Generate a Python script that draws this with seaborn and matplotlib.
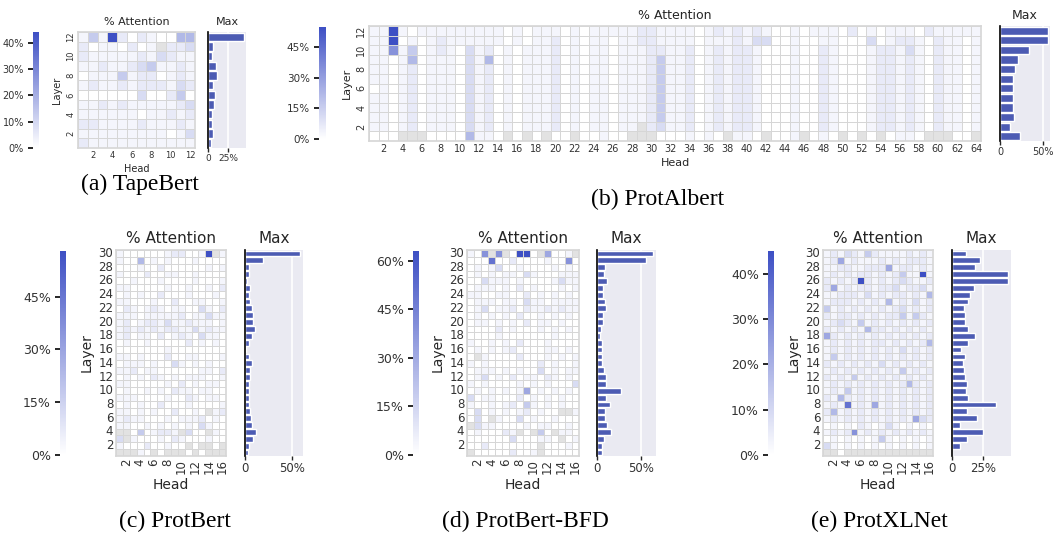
import numpy as np
import pandas as pd
import matplotlib
matplotlib.use("Agg")
import matplotlib.pyplot as plt
from matplotlib.ticker import FuncFormatter
import seaborn as sns

# Style
sns.set_theme(style="darkgrid")
plt.rcParams['font.family'] = ['DejaVu Sans']

W, H = 1053, 533
BLUE = '#3d4fc4'
BAR_COLOR = '#4c5bb3'
CELL_LINE = '#d6d6d6'
NAN_GRAY = '#e2e2e2'

# intensity code read off the cells -> fraction of colour-bar max ('x' = grey / no value)
LEVEL = {'0': 0.0, '1': 0.06, '2': 0.12, '3': 0.2, '4': 0.3,
         '5': 0.4, '6': 0.5, '7': 0.62, '8': 0.8, '9': 1.0, 'x': np.nan}

# ---- (a) TapeBert: 12 layers x 12 heads, rows from top layer down ----
tapebert_cells = [
    "141920210055", "20110201x223", "211111213211", "112112341121",
    "011141220121", "121121222132", "000000300240", "112121111123",
    "111111011212", "221111211121", "111111111013", "211111111111",
]
tapebert_max = [45.5, 6.9, 5.6, 9.9, 11.2, 6.9, 8.6, 7.3, 4.7, 4.7, 6.0, 3.4]

# ---- (b) ProtAlbert: 12 layers x 64 heads ----
protalbert_cells = [
    "1191011111" "1111010111" "0101111122" "1111012121" "2100101110" "2010111021" "1111",
    "1190101211" "1111010112" "0101101122" "1111011121" "3300100110" "0030122102" "1101",
    "1171401210" "3120101112" "0101101112" "2112012122" "1000100210" "0012213102" "1101",
    "1101501110" "3150101112" "0101101112" "4112012122" "1000100210" "0012212102" "1101",
    "1101201110" "3120101112" "0101101112" "4112012122" "1000100210" "0012212102" "1101",
    "1101201110" "3120101112" "0101101112" "4112012122" "1000100210" "0012212102" "1101",
    "0101201110" "3120101112" "0101101112" "4112012122" "1000100210" "0012212102" "1101",
    "1101201110" "3120101112" "0101101112" "4112012122" "1000100210" "0012212102" "1101",
    "1101201110" "3120101112" "0101101112" "4112012122" "1000100210" "0012212102" "1101",
    "1101201110" "3120101112" "0101101112" "4112012122" "1000100210" "0012212102" "1101",
    "1101201110" "3120101112" "01011011x2" "3112012122" "1000100210" "0012212102" "1101",
    "000xxx0000" "5110x0x0x0" "0x00100xxx" "0001010x11" "0x001x010x" "0x0x0110xx" "x00x",
]
protalbert_max = [55.6, 55.6, 34.0, 21.0, 17.5, 15.0, 15.0, 15.0, 15.0, 16.3, 11.5, 23.4]

# ---- (c) ProtBert: 30 layers x 16 heads ----
protbert_cells = [
    "10000001220019x1", "1005010100010000", "0001002000000101", "1000200110010000",
    "0010001000010001", "1100000100100102", "0101002000100010", "1100010020011001",
    "0210121011003102", "1110111112011311", "1201221311211101", "1212121221131211",
    "1201102012103110", "0100100000201010", "0000000100000000", "1101000200110001",
    "0111010031010100", "1120110000001102", "0101021010111001", "1100000102010110",
    "0100101021101100", "1110000100210110", "0101002000100001", "1101010020010x12",
    "1211000101112010", "1100101010103100", "xx0401221x300x10", "3x10001021000100",
    "1000200100x0xx0x", "xxx10x0xxx0x0xxx",
]
protbert_max = [58.5, 19.0, 4.3, 4.3, 2.5, 5.3, 4.3, 5.3, 7.4, 8.5, 8.5, 10.6, 7.4, 4.3, 1.0,
                4.3, 7.4, 5.3, 5.3, 4.3, 4.3, 4.3, 4.3, 5.3, 6.4, 7.4, 11.7, 8.5, 4.3, 3.2]

# ---- (d) ProtBert-BFD: 30 layers x 16 heads ----
protbert_bfd_cells = [
    "107x7x0990x6001x", "0008002000010070", "0101300100001010", "0101011031000111",
    "0031110100001311", "0111010201000101", "1100110020101010", "0111011031101111",
    "0130112021121211", "0101010200101010", "0110101020110100", "0000201000101010",
    "0000100000001000", "1001010200010000", "0101012000011010", "0x10000200010101",
    "1010000000201001", "0111010100301011", "0130102011021010", "1010000101010003",
    "0101010160101010", "3011000201010100", "1001012041010100", "0301010120100xx1",
    "030x100301001000", "x311000010110010", "0100021x0x40x110", "0000003000110x01",
    "0020000000x00010", "x000002001x00000",
]
protbert_bfd_max = [63.8, 55.7, 8.8, 7.6, 11.0, 6.5, 6.5, 8.8, 10.0, 6.5, 6.5, 4.2, 3.0, 5.3, 5.3,
                    5.3, 5.3, 7.6, 10.0, 10.0, 27.0, 10.0, 14.5, 8.8, 8.8, 11.0, 15.6, 7.6, 5.3, 5.3]

# ---- (e) ProtXLNet: 30 layers x 16 heads ----
protxlnet_cells = [
    "1213214211112121", "1261211121212221", "1122112226122121", "1212122121241191",
    "2121292121232112", "2612122122312231", "1122213121221215", "1222121215121312",
    "4121212121231212", "2122121212241421", "1232141212121212", "2121215221212121",
    "6212121212121212", "1212121221212125", "1212121212131212", "1412121212121212",
    "2121212131212121", "1212121212141212", "2121412121212121", "1212121212125212",
    "1214121212121212", "2152121212121212", "1218121612121212", "2512121212121212",
    "1212121212121632", "0101021013101010", "1212712121212121", "0101010141010101",
    "3101010101010101", "xx0xxxxxxxxxxxxx",
]
protxlnet_max = [11.1, 22.6, 18.5, 45.4, 45.4, 17.7, 14.4, 12.8, 9.5, 10.3, 10.3, 12.8, 18.5, 12.8, 7.1,
                 10.3, 8.7, 9.5, 10.3, 12.0, 11.1, 12.8, 35.6, 12.0, 20.1, 6.3, 25.0, 12.0, 6.3, 0.0]

panels = [
    dict(cells=tapebert_cells, maxes=tapebert_max, vmax=44, cticks=[0, 10, 20, 30, 40], btick=25,
         caption='(a) TapeBert', cap_xy=(140, 184),
         heat=(78, 32, 195, 148), cbar=(33, 32, 39, 148), bar=(208, 32, 246, 148),
         fs_title=8, fs_label=7, fs_tick=6, fs_ctick=7, fs_btick=6.5, lw=0.7, small=True),
    dict(cells=protalbert_cells, maxes=protalbert_max, vmax=55, cticks=[0, 15, 30, 45], btick=50,
         caption='(b) ProtAlbert', cap_xy=(658, 199),
         heat=(369, 26, 981, 141), cbar=(319, 27, 326, 139), bar=(1000, 26, 1050, 141),
         fs_title=9, fs_label=8, fs_tick=7, fs_ctick=7.5, fs_btick=7, lw=0.6, small=True),
    dict(cells=protbert_cells, maxes=protbert_max, vmax=58, cticks=[0, 15, 30, 45], btick=50,
         caption='(c) ProtBert', cap_xy=(175, 521),
         heat=(116, 250, 226, 456), cbar=(60, 251, 66, 455), bar=(245, 250, 303, 456),
         fs_title=11, fs_label=10, fs_tick=8.5, fs_ctick=9, fs_btick=8.5, lw=0.7, small=False),
    dict(cells=protbert_bfd_cells, maxes=protbert_bfd_max, vmax=63, cticks=[0, 15, 30, 45, 60], btick=50,
         caption='(d) ProtBert-BFD', cap_xy=(525, 521),
         heat=(467, 250, 579, 456), cbar=(413, 251, 419, 455), bar=(597, 250, 656, 456),
         fs_title=11, fs_label=10, fs_tick=8.5, fs_ctick=9, fs_btick=8.5, lw=0.7, small=False),
    dict(cells=protxlnet_cells, maxes=protxlnet_max, vmax=45, cticks=[0, 10, 20, 30, 40], btick=25,
         caption='(e) ProtXLNet', cap_xy=(879, 521),
         heat=(823, 250, 933, 456), cbar=(768, 251, 774, 455), bar=(952, 250, 1011, 456),
         fs_title=11, fs_label=10, fs_tick=8.5, fs_ctick=9, fs_btick=8.5, lw=0.7, small=False),
]


def rect(x0, y0, x1, y1):
    return [x0 / W, 1 - y1 / H, (x1 - x0) / W, (y1 - y0) / H]


fig = plt.figure(figsize=(W / 100, H / 100), dpi=100)
cmap = sns.blend_palette(['#ffffff', BLUE], as_cmap=True)
pct = FuncFormatter(lambda v, _: f'{v:g}%')

for p in panels:
    cells = p['cells']
    n_layers, n_heads = len(cells), len(cells[0])
    layers = list(range(n_layers, 0, -1))
    heads = list(range(1, n_heads + 1))
    vals = np.array([[LEVEL[c] for c in row] for row in cells]) * p['vmax']
    df = pd.DataFrame(vals, index=layers, columns=heads)

    ax_h = fig.add_axes(rect(*p['heat']))
    ax_c = fig.add_axes(rect(*p['cbar']))
    ax_b = fig.add_axes(rect(*p['bar']))

    # heatmap
    sns.heatmap(df, ax=ax_h, cmap=cmap, vmin=0, vmax=p['vmax'], cbar_ax=ax_c,
                linewidths=p['lw'], linecolor=CELL_LINE)
    ax_h.set_facecolor(NAN_GRAY)
    ax_h.grid(False)
    xt = np.arange(1, n_heads, 2)
    yt = np.arange(0, n_layers, 2)
    ax_h.set_xticks(xt + 0.5)
    ax_h.set_yticks(yt + 0.5)
    if p['small']:
        ax_h.set_xticklabels([str(heads[i]) for i in xt], rotation=0)
        ax_h.set_yticklabels([str(layers[i]) for i in yt], rotation=90, va='center')
    else:
        ax_h.set_xticklabels([str(heads[i]) for i in xt], rotation=90)
        ax_h.set_yticklabels([str(layers[i]) for i in yt], rotation=0)
    ax_h.tick_params(length=0, labelsize=p['fs_tick'], colors='#333333', pad=2)
    ax_h.set_xlabel('Head', fontsize=p['fs_label'], color='#262626', labelpad=3)
    ax_h.set_ylabel('Layer', fontsize=p['fs_label'], color='#262626', labelpad=3)
    ax_h.set_title('% Attention', fontsize=p['fs_title'], color='#262626', pad=5)
    for sp in ax_h.spines.values():
        sp.set_visible(True)
        sp.set_color(CELL_LINE)
        sp.set_linewidth(1.2)

    # colour bar on the left
    ax_c.grid(False)
    cb = ax_h.collections[0].colorbar
    cb.outline.set_linewidth(0)
    cb.set_ticks(p['cticks'])
    ax_c.yaxis.set_major_formatter(pct)
    ax_c.yaxis.set_ticks_position('left')
    ax_c.yaxis.set_label_position('left')
    ax_c.tick_params(axis='y', left=True, right=False, length=3.5, width=1.4,
                     color='#262626', labelsize=p['fs_ctick'], labelcolor='#333333', pad=3)

    # max bars
    bar_df = pd.DataFrame({'layer': [str(l) for l in layers], 'max': p['maxes']})
    sns.barplot(data=bar_df, x='max', y='layer', orient='h', color=BAR_COLOR,
                saturation=1, width=0.85, ax=ax_b, order=[str(l) for l in layers])
    ax_b.set_xlabel('')
    ax_b.set_ylabel('')
    ax_b.set_yticks([])
    ax_b.set_xticks([0, p['btick']])
    ax_b.set_xticklabels(['0', f"{p['btick']}%"])
    ax_b.grid(axis='x', color='white', linewidth=1.2)
    for side in ['top', 'right', 'bottom']:
        ax_b.spines[side].set_visible(False)
    ax_b.spines['left'].set_color('black')
    ax_b.spines['left'].set_linewidth(1.2)
    ax_b.tick_params(axis='x', bottom=True, length=3, width=1, color='#262626',
                     labelsize=p['fs_btick'], labelcolor='#333333', pad=1.5)
    ax_b.set_title('Max', fontsize=p['fs_title'], color='#262626', pad=5)

    cx, cy = p['cap_xy']
    fig.text(cx / W, 1 - cy / H, p['caption'], ha='center', va='center',
             family='Liberation Serif', fontsize=17, color='black')

plt.savefig('out.png', dpi=100)
plt.close()
